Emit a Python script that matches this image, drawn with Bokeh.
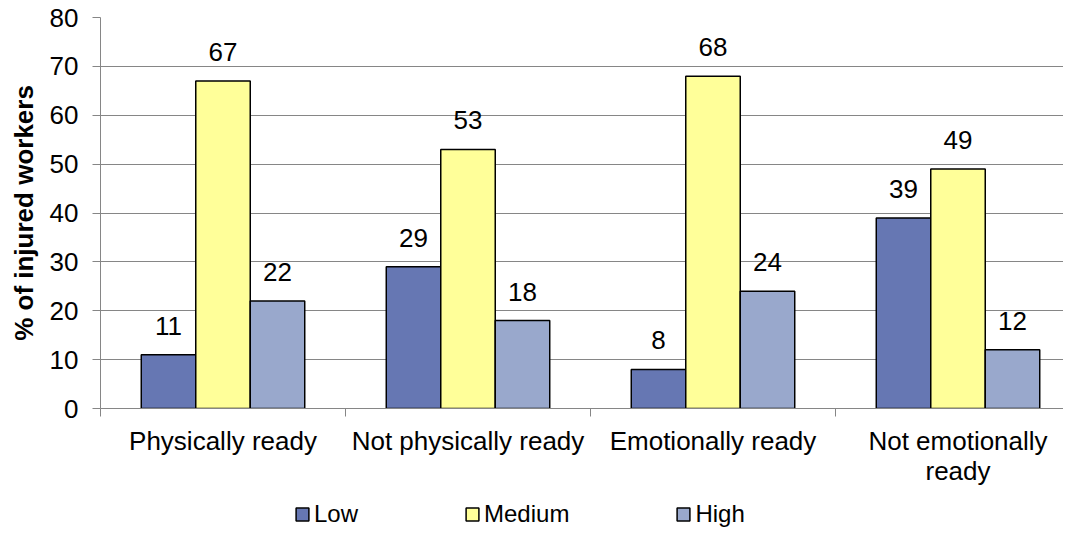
from bokeh.plotting import figure
from bokeh.layouts import column
from bokeh.models import ColumnDataSource, FixedTicker, Legend, LegendItem, Range1d
from bokeh.transform import dodge
from bokeh.core.properties import value
from bokeh.embed import file_html
from bokeh.resources import INLINE

categories = ["Physically ready", "Not physically ready", "Emotionally ready", "Not emotionally ready"]
tick_labels = ["Physically ready", "Not physically ready", "Emotionally ready", "Not emotionally\nready"]
series = ["Low", "Medium", "High"]
low = [11, 29, 8, 39]
medium = [67, 53, 68, 49]
high = [22, 18, 24, 12]
colors = ["#6677B3", "#FFFF99", "#99A8CC"]
y_ticks = [0, 10, 20, 30, 40, 50, 60, 70, 80]

FONT = "Liberation Sans"
GRAY = "#868686"
BAR_W = 0.2224
W = 1063
MAIN_H = 490
LEG_H = 38

centers = [i + 0.5 for i in range(len(categories))]
source = ColumnDataSource(data=dict(
    x=centers,
    Low=low, Medium=medium, High=high,
    Low_t=[str(v) for v in low], Medium_t=[str(v) for v in medium], High_t=[str(v) for v in high],
))

p = figure(width=W, height=MAIN_H,
           x_range=Range1d(0, (W - 100) / 245), y_range=Range1d(0, 80),
           output_backend="svg", toolbar_location=None,
           min_border_left=100, min_border_right=0, min_border_top=17,
           min_border_bottom=MAIN_H - 408,
           outline_line_color=None)

for name, color, off in zip(series, colors, [-BAR_W, 0, BAR_W]):
    p.vbar(x=dodge("x", off), top=name, width=BAR_W, source=source,
           fill_color=color, line_color="black", line_width=1.5)
    p.text(x=dodge("x", off), y=name, text=name + "_t", source=source,
           text_align="center", text_baseline="alphabetic", y_offset=-29,
           text_font=value(FONT), text_font_size="26px", text_color="black")

# x axis
p.xaxis.ticker = FixedTicker(ticks=centers, minor_ticks=[0, 1, 2, 3, 4])
p.xaxis.major_label_overrides = {c: t for c, t in zip(centers, tick_labels)}
p.xaxis.major_tick_out = 0
p.xaxis.major_tick_in = 0
p.xaxis.minor_tick_out = 8
p.xaxis.minor_tick_in = 0
p.xaxis.minor_tick_line_color = GRAY
p.xaxis.axis_line_color = GRAY
p.xaxis.major_label_text_font = FONT
p.xaxis.major_label_text_font_size = "26px"
p.xaxis.major_label_text_color = "black"
p.xaxis.major_label_text_line_height = 1.0
p.xaxis.major_label_standoff = 9
p.xgrid.visible = False

# y axis
p.yaxis.ticker = FixedTicker(ticks=y_ticks)
p.yaxis.major_tick_out = 8
p.yaxis.major_tick_in = 0
p.yaxis.major_tick_line_color = GRAY
p.yaxis.axis_line_color = GRAY
p.yaxis.major_label_text_font = FONT
p.yaxis.major_label_text_font_size = "26px"
p.yaxis.major_label_text_color = "black"
p.yaxis.major_label_standoff = 14
p.yaxis.axis_label = "% of injured workers"
p.yaxis.axis_label_text_font = FONT
p.yaxis.axis_label_text_font_size = "26px"
p.yaxis.axis_label_text_font_style = "bold"
p.yaxis.axis_label_text_color = "black"
p.yaxis.axis_label_standoff = 8
p.ygrid.grid_line_color = GRAY
p.ygrid.grid_line_width = 1

# legend strip below the chart (hidden copies of the series supply the swatches)
p2 = figure(width=W, height=LEG_H, x_range=Range1d(0, W), y_range=Range1d(0, LEG_H),
            output_backend="svg", toolbar_location=None,
            x_axis_location=None, y_axis_location=None, min_border=0,
            outline_line_color=None)
p2.grid.visible = False
leg_renderers = []
for name, color in zip(series, colors):
    r = p2.vbar(x="x", top=name, width=BAR_W, source=source,
                fill_color=color, line_color="black", line_width=1.5)
    r.visible = False
    leg_renderers.append(r)
legend = Legend(items=[LegendItem(label=s, renderers=[r]) for s, r in zip(series, leg_renderers)],
                orientation="horizontal", location=(194, 0), spacing=106,
                glyph_width=16, glyph_height=16, label_standoff=4,
                label_text_font=FONT, label_text_font_size="24px", label_text_color="black",
                label_text_line_height=0.9, label_height=13,
                border_line_color=None, background_fill_alpha=0, padding=0, margin=0)
p2.add_layout(legend, "center")

layout = column(p, p2, spacing=0)
open("out.html", "w").write(file_html(layout, INLINE))
